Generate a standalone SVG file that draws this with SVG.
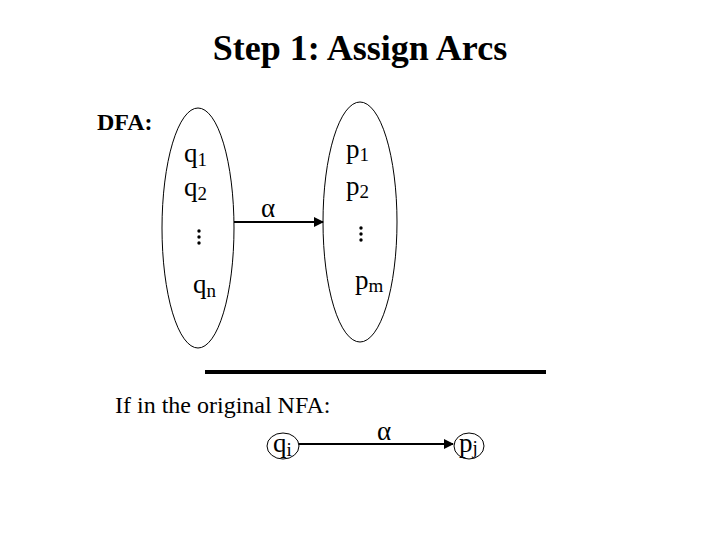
<svg xmlns="http://www.w3.org/2000/svg" width="720" height="540" viewBox="0 0 720 540">
<style>
text{font-family:"Liberation Serif","Times New Roman",serif;fill:#000}
.t{font-size:24px}
.n{font-size:27px}
.b{font-weight:bold}
.sub{font-size:19px}
.set{fill:none;stroke:#000;stroke-width:1}
.st{fill:none;stroke:#000;stroke-width:1}
.edge{stroke:#000;stroke-width:2;fill:none}
.dot{fill:#000}
</style>
<defs>
<marker id="ah" viewBox="0 0 10 10" refX="9" refY="5" markerWidth="5" markerHeight="5" orient="auto" markerUnits="strokeWidth">
<path d="M0,0 L10,5 L0,10 z" fill="#000"/>
</marker>
</defs>
<rect width="720" height="540" fill="#fff"/>
<text x="360" y="60" class="b" font-size="36" text-anchor="middle">Step 1: Assign Arcs</text>
<text x="97" y="130" class="b" font-size="24">DFA:</text>

<g id="setQ">
<ellipse class="set" cx="198" cy="228" rx="36" ry="120"/>
<text x="184" y="162" class="n">q<tspan class="sub" dy="4">1</tspan></text>
<text x="184" y="196" class="n">q<tspan class="sub" dy="4">2</tspan></text>
<circle class="dot" cx="199" cy="231" r="1.7"/>
<circle class="dot" cx="199" cy="237" r="1.7"/>
<circle class="dot" cx="199" cy="243" r="1.7"/>
<text x="193" y="293" class="n">q<tspan class="sub" dy="4">n</tspan></text>
</g>

<g id="setP">
<ellipse class="set" cx="360" cy="222" rx="37" ry="120"/>
<text x="346" y="158" class="n">p<tspan class="sub" dy="3">1</tspan></text>
<text x="346" y="195" class="n">p<tspan class="sub" dy="3">2</tspan></text>
<circle class="dot" cx="361" cy="228" r="1.7"/>
<circle class="dot" cx="361" cy="234" r="1.7"/>
<circle class="dot" cx="361" cy="240" r="1.7"/>
<text x="355" y="289" class="n">p<tspan class="sub" dy="3">m</tspan></text>
</g>

<line x1="205" y1="372" x2="546" y2="372" stroke="#000" stroke-width="4"/>
<text x="115" y="413" class="t">If in the original NFA:</text>

<g id="qi">
<ellipse class="st" cx="283" cy="446" rx="16" ry="13"/>
<text x="273" y="452" class="n">q<tspan class="sub" dy="4">i</tspan></text>
</g>
<g id="pj">
<ellipse class="st" cx="469" cy="446" rx="15" ry="13"/>
<text x="459" y="452" class="n">p<tspan class="sub" dy="2">j</tspan></text>
</g>

<g id="connectors">
<line class="edge" x1="234" y1="222" x2="323" y2="222" marker-end="url(#ah)"/>
<text x="261" y="217" class="n">α</text>
<line class="edge" x1="299" y1="444" x2="453" y2="444" marker-end="url(#ah)"/>
<text x="377" y="440" class="n">α</text>
</g>
</svg>
